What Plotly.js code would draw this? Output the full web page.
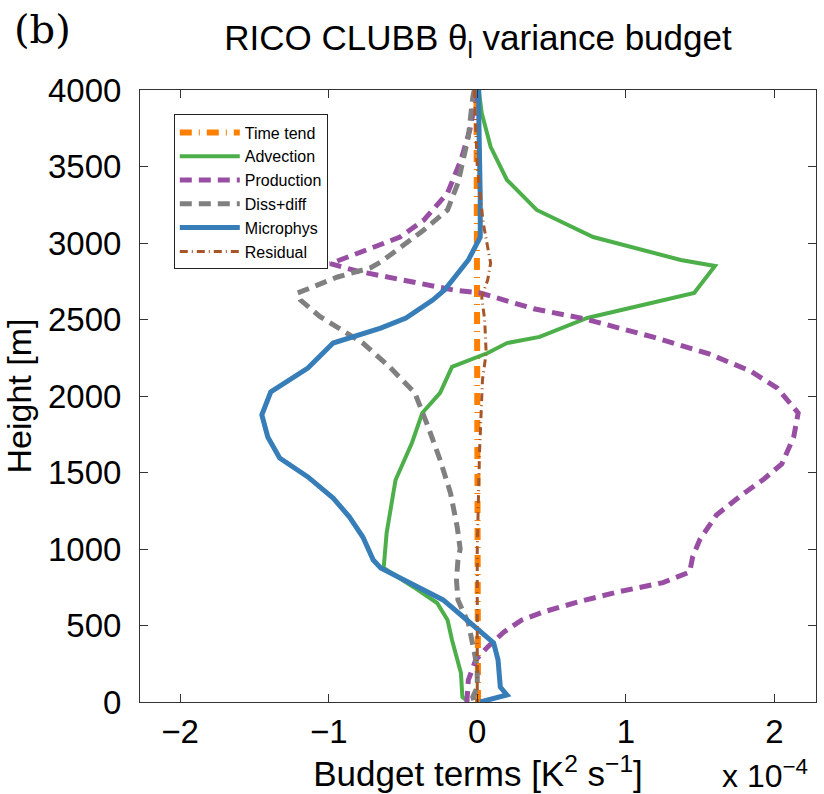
<!DOCTYPE html>
<html>
<head>
<meta charset="utf-8">
<script src="https://cdn.plot.ly/plotly-3.0.1.min.js"></script>
<style>html,body{margin:0;padding:0;background:#fff;}#chart{width:824px;height:794px;}</style>
</head>
<body>
<div id="chart"></div>
<script>
// Budget terms in units of 1e-4 K^2 s^-1, heights in m
var timeTendH = [0, 250, 500, 750, 1000, 1500, 2000, 2500, 3000, 3500, 4000];
var timeTendV = [0.005, 0.005, 0.004, 0.003, 0.002, 0.002, 0.0, 0.0, -0.002, -0.004, -0.005];

var advectionH = [4000, 3850, 3629, 3412, 3216, 3039, 2889, 2850, 2673, 2510, 2386, 2346, 2281, 2190, 2020, 1889, 1693, 1451, 1105, 950, 876, 752, 647, 536, 405, 190, 33, 0];
var advectionV = [0.01, 0.03, 0.09, 0.20, 0.40, 0.78, 1.37, 1.60, 1.46, 0.74, 0.42, 0.20, 0.07, -0.17, -0.25, -0.37, -0.44, -0.55, -0.61, -0.62, -0.63, -0.43, -0.27, -0.20, -0.17, -0.11, -0.10, -0.06];

var productionH = [4000, 3739, 3542, 3327, 3150, 3039, 2990, 2876, 2865, 2817, 2758, 2693, 2673, 2570, 2505, 2386, 2275, 2163, 2052, 1889, 1732, 1556, 1458, 1346, 1222, 1065, 950, 850, 780, 720, 660, 590, 536, 458, 360, 275, 144, 0];
var productionV = [0.0, -0.05, -0.11, -0.20, -0.36, -0.52, -0.65, -0.94, -0.99, -0.81, -0.52, -0.16, 0.02, 0.38, 0.72, 1.18, 1.56, 1.84, 2.02, 2.16, 2.13, 2.05, 1.93, 1.77, 1.61, 1.50, 1.45, 1.43, 1.25, 0.95, 0.70, 0.45, 0.30, 0.18, 0.07, -0.01, -0.06, -0.07];

var dissH = [4000, 3954, 3693, 3392, 3216, 3085, 2954, 2876, 2837, 2778, 2673, 2627, 2520, 2444, 2346, 2190, 2020, 1797, 1582, 1366, 1144, 1000, 928, 797, 667, 516, 386, 229, 98, 33, 0];
var dissV = [-0.02, -0.03, -0.06, -0.13, -0.20, -0.36, -0.54, -0.65, -0.72, -0.94, -1.21, -1.19, -1.06, -0.94, -0.77, -0.59, -0.42, -0.33, -0.25, -0.18, -0.135, -0.115, -0.13, -0.14, -0.13, -0.06, -0.03, 0.0, 0.0, -0.03, -0.02];

var microH = [4000, 3850, 3300, 3039, 2889, 2693, 2627, 2510, 2444, 2346, 2183, 2026, 1876, 1732, 1595, 1471, 1333, 1209, 1078, 928, 876, 765, 667, 536, 386, 275, 98, 46, 0];
var microV = [0.01, 0.01, 0.02, 0.02, -0.06, -0.22, -0.30, -0.48, -0.65, -0.97, -1.14, -1.39, -1.45, -1.41, -1.33, -1.14, -0.97, -0.86, -0.77, -0.70, -0.65, -0.43, -0.23, -0.07, 0.11, 0.14, 0.155, 0.20, 0.02];

var residualH = [4000, 3800, 3500, 3131, 2869, 2758, 2647, 2497, 2281, 2105, 1627, 1000, 500, 0];
var residualV = [-0.02, -0.01, 0.0, 0.04, 0.09, 0.07, 0.03, 0.05, 0.06, 0.035, 0.015, 0.0, 0.0, 0.0];

var xTicks = [-2, -1, 0, 1, 2];
var xTickText = ['−2', '−1', '0', '1', '2'];
var yTicks = [0, 500, 1000, 1500, 2000, 2500, 3000, 3500, 4000];

var FONT = 'Liberation Sans, Arial, sans-serif';

var traces = [
  {name: 'Time tend', x: timeTendV, y: timeTendH, mode: 'lines',
   line: {color: '#ff7f00', width: 6, dash: '12px,7px,1px,7px'}},
  {name: 'Advection', x: advectionV, y: advectionH, mode: 'lines',
   line: {color: '#4daf4a', width: 4}},
  {name: 'Production', x: productionV, y: productionH, mode: 'lines',
   line: {color: '#984ea3', width: 5, dash: '12px,7px'}},
  {name: 'Diss+diff', x: dissV, y: dissH, mode: 'lines',
   line: {color: '#808080', width: 5, dash: '12px,7px'}},
  {name: 'Microphys', x: microV, y: microH, mode: 'lines',
   line: {color: '#377eb8', width: 5}},
  {name: 'Residual', x: residualV, y: residualH, mode: 'lines',
   line: {color: '#a65628', width: 3, dash: '8px,4px,1px,4px'}}
];

var layout = {
  width: 824, height: 794,
  margin: {l: 140, r: 8, t: 90, b: 92},
  paper_bgcolor: '#fff', plot_bgcolor: '#fff',
  font: {family: FONT, color: '#000'},
  showlegend: true,
  title: {text: 'RICO CLUBB θ<sub>l</sub> variance budget', font: {size: 35, family: FONT},
          x: 0.5, xref: 'paper', xanchor: 'center', y: 0.952, yref: 'container', yanchor: 'middle'},
  xaxis: {range: [-2.27, 2.28], tickvals: xTicks, ticktext: xTickText,
          ticks: 'inside', ticklen: 8, tickcolor: '#333', mirror: 'allticks', showline: true,
          linecolor: '#333', linewidth: 1, showgrid: false, zeroline: false,
          tickfont: {size: 33, family: FONT},
          title: {text: 'Budget terms [K<sup>2</sup> s<sup>−1</sup>]', font: {size: 35, family: FONT}, standoff: 6}},
  yaxis: {range: [0, 4000], tickvals: yTicks,
          ticks: 'inside', ticklen: 8, tickcolor: '#333', mirror: 'allticks', showline: true,
          linecolor: '#333', linewidth: 1, showgrid: false, zeroline: false,
          tickfont: {size: 33, family: FONT}, ticklabelstandoff: 11,
          title: {text: 'Height [m]', font: {size: 34, family: FONT}, standoff: 12}},
  legend: {x: 0.05, y: 0.96, xanchor: 'left', yanchor: 'top', bgcolor: '#fff',
           bordercolor: '#222', borderwidth: 1, font: {size: 16, family: FONT},
           itemwidth: 60, tracegroupgap: 0},
  annotations: [
    {text: '(b)', xref: 'paper', yref: 'paper', x: -0.19, y: 1.1, xanchor: 'left', yanchor: 'middle',
     showarrow: false, font: {size: 40, family: 'DejaVu Serif, serif'}},
    {text: 'x 10<sup>−4</sup>', xref: 'paper', yref: 'paper', x: 0.925, y: -0.118, xanchor: 'center', yanchor: 'middle',
     showarrow: false, font: {size: 32, family: FONT}}
  ]
};

Plotly.newPlot('chart', traces, layout, {displayModeBar: false, staticPlot: true});
</script>
</body>
</html>
